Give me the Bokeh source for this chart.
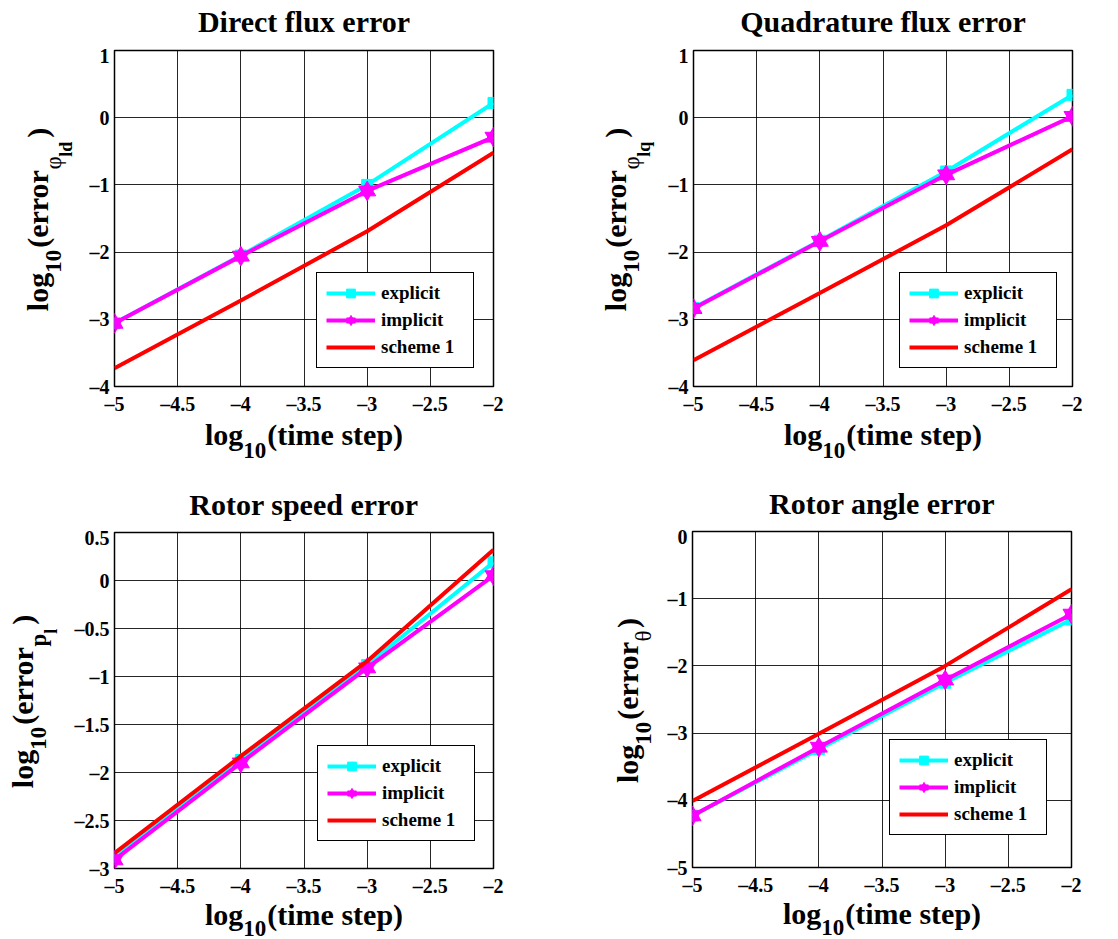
import math
from bokeh.plotting import figure
from bokeh.models import Label, Legend, LegendItem, FixedTicker, Range1d
from bokeh.layouts import column, row
from bokeh.embed import file_html
from bokeh.resources import INLINE

# ---------------- data ----------------
log_dt = [-5, -4, -3, -2]

dflux_explicit = [-3.06, -2.05, -1.00, 0.22]
dflux_implicit = [-3.06, -2.06, -1.09, -0.29]
dflux_scheme1 = [-3.73, -2.72, -1.69, -0.52]

qflux_explicit = [-2.83, -1.83, -0.80, 0.34]
qflux_implicit = [-2.84, -1.84, -0.85, 0.02]
qflux_scheme1 = [-3.61, -2.61, -1.60, -0.47]

speed_explicit = [-2.88, -1.87, -0.88, 0.19]
speed_implicit = [-2.91, -1.90, -0.91, 0.05]
speed_scheme1 = [-2.84, -1.83, -0.84, 0.32]

angle_explicit = [-4.23, -3.24, -2.25, -1.31]
angle_implicit = [-4.23, -3.21, -2.21, -1.23]
angle_scheme1 = [-4.01, -3.01, -2.00, -0.86]

titles = ["Direct flux error", "Quadrature flux error", "Rotor speed error", "Rotor angle error"]
series_names = ["explicit", "implicit", "scheme 1"]
x_ticks = [-5, -4.5, -4, -3.5, -3, -2.5, -2]
y_ticks_flux = [-4, -3, -2, -1, 0, 1]
y_ticks_speed = [-3, -2.5, -2, -1.5, -1, -0.5, 0, 0.5]
y_ticks_angle = [-5, -4, -3, -2, -1, 0]

FONT = "Liberation Serif"
CYAN = "#00FFFF"
MAGENTA = "#FF00FF"
RED = "#FF0000"

FW, FH = 379, 336
BASE_OFF = 0.3375  # distance (em) from the text-box centre down to the baseline

WID = {'l': .278, 'o': .5, 'g': .5, '1': .5, '0': .5, '(': .333, ')': .333,
       'e': .444, 'r': .444, 't': .333, 'i': .278, 'm': .833, ' ': .25,
       's': .389, 'p': .556, 'd': .556, 'q': .556, 'φ': .55, 'θ': .5}


def tw(s, size):
    return sum(WID.get(c, .5) for c in s) * size


def fmt(t):
    return ("%g" % t).replace("-", "\u2013")


def key(t):
    return int(t) if float(t).is_integer() else t


def strip(w, h):
    s = figure(frame_width=w, frame_height=h, x_range=Range1d(0, w), y_range=Range1d(0, h),
               x_axis_location=None, y_axis_location=None, toolbar_location=None,
               output_backend="svg", min_border=0, title=None,
               background_fill_color="white", border_fill_color="white")
    s.outline_line_color = None
    s.xgrid.visible = False
    s.ygrid.visible = False
    return s


def lab(p, x, y, t, sz, bold, align="left", vertical=False):
    # (x, y) is the intended baseline start point (y upwards)
    if vertical:
        x = x - BASE_OFF * sz
        ang = math.pi / 2
    else:
        y = y + BASE_OFF * sz
        ang = 0.0
    p.add_layout(Label(x=x, y=y, text=t, text_font=FONT, text_font_size="%dpx" % sz,
                       text_font_style="bold" if bold else "normal", text_color="black",
                       text_align=align, text_baseline="middle", angle=ang))


def rich(p, pieces, center, base, vertical):
    total = sum(tw(t, sz) + g for t, sz, sh, b, g in pieces)
    pos = center - total / 2.0
    for t, sz, sh, b, g in pieces:
        if vertical:
            lab(p, base + sh, pos, t, sz, b, vertical=True)
        else:
            lab(p, pos, base - sh, t, sz, b)
        pos += tw(t, sz) + g


def main_fig(ex, im, sc, yr, yticks, bl, br, bt, bb, legend_loc):
    p = figure(frame_width=FW, frame_height=FH, x_range=Range1d(-5, -2),
               y_range=Range1d(*yr), output_backend="svg", toolbar_location=None,
               title=None, min_border_left=bl, min_border_right=br,
               min_border_top=bt, min_border_bottom=bb,
               background_fill_color="white", border_fill_color="white")
    p.outline_line_color = "black"
    p.outline_line_width = 1.5
    p.outline_line_alpha = 1.0

    p.xaxis.ticker = FixedTicker(ticks=x_ticks)
    p.yaxis.ticker = FixedTicker(ticks=yticks)
    p.xaxis.major_label_overrides = {key(t): fmt(t) for t in x_ticks}
    p.yaxis.major_label_overrides = {key(t): fmt(t) for t in yticks}
    for ax in (p.xaxis, p.yaxis):
        ax.axis_line_color = None
        ax.major_tick_line_color = None
        ax.minor_tick_line_color = None
        ax.major_tick_out = 0
        ax.major_tick_in = 0
        ax.major_label_text_font = FONT
        ax.major_label_text_font_style = "bold"
        ax.major_label_text_font_size = "20px"
        ax.major_label_text_color = "black"
    p.xaxis.major_label_standoff = 6
    p.yaxis.major_label_standoff = 5
    p.grid.grid_line_color = "black"
    p.grid.grid_line_alpha = 0.85
    p.grid.grid_line_width = 1

    l1 = p.line(log_dt, ex, line_color=CYAN, line_width=4)
    s1 = p.scatter(log_dt, ex, marker="square", size=11, fill_color=CYAN, line_color=CYAN)
    l2 = p.line(log_dt, im, line_color=MAGENTA, line_width=4)
    t1 = p.scatter(log_dt, im, marker="triangle", size=17, fill_color=MAGENTA, line_color=MAGENTA)
    t2 = p.scatter(log_dt, im, marker="inverted_triangle", size=17, fill_color=MAGENTA, line_color=MAGENTA)
    l3 = p.line(log_dt, sc, line_color=RED, line_width=4)

    legend = Legend(items=[LegendItem(label=series_names[0], renderers=[l1, s1]),
                           LegendItem(label=series_names[1], renderers=[l2, t1, t2]),
                           LegendItem(label=series_names[2], renderers=[l3])],
                    location=legend_loc)
    legend.label_text_font = FONT
    legend.label_text_font_style = "bold"
    legend.label_text_font_size = "19px"
    legend.label_text_color = "black"
    legend.glyph_width = 49
    legend.glyph_height = 22
    legend.label_height = 22
    legend.label_width = 83
    legend.label_standoff = 6
    legend.spacing = 5
    legend.padding = 9
    legend.margin = 0
    legend.border_line_color = "black"
    legend.border_line_width = 1
    legend.border_line_alpha = 1
    legend.background_fill_color = "white"
    legend.background_fill_alpha = 1
    p.add_layout(legend)
    return p


S2 = 25
F, SF, SSF = 30, 23, 18
YLAB_LIFT = 5


def panel(title, ex, im, sc, yr, yticks, PW, PH, fx, fy, yw, ylab_pieces, ylab_base,
          title_base, xlab_base, xsub, legend_loc):
    BT = 6
    BB = 29
    TH = fy - BT
    MH = BT + FH + BB
    XH = PH - TH - MH
    bl = fx - yw
    br = PW - fx - FW

    t = strip(PW, TH)
    lab(t, fx + FW / 2.0, TH - title_base, title, F, True, align="center")

    yl = strip(yw, MH)
    rich(yl, ylab_pieces, MH - (BT + FH / 2.0) + YLAB_LIFT, ylab_base, True)

    m = main_fig(ex, im, sc, yr, yticks, bl, br, BT, BB, legend_loc)

    xl = strip(PW, XH)
    xlab = [("log", F, 0, True, 0), ("10", SF, xsub, True, 1), ("(time step)", F, 0, True, 0)]
    rich(xl, xlab, fx + FW / 2.0, XH - (xlab_base - TH - MH), False)

    return column(t, row(yl, m, spacing=0), xl, spacing=0)


def ylab(sub_parts):
    return ([("log", F, 0, True, 0), ("10", SF, 14, True, 2), ("(error", F, 0, True, 0)]
            + sub_parts + [(")", F, 0, True, 0)])


ylab1 = ylab([("φ", SF, 14, False, 0), ("ld", SSF, S2, True, 4)])
ylab2 = ylab([("φ", SF, 14, False, 0), ("lq", SSF, S2, True, 4)])
ylab3 = ylab([("p", SF, 14, True, 0), ("l", SSF, S2, True, 4)])
ylab4 = ylab([("θ", SF, 14, False, 2)])

P1 = panel(titles[0], dflux_explicit, dflux_implicit, dflux_scheme1, (-4, 1), y_ticks_flux,
           559, 469, 114, 50, 84, ylab1, 47, 31, 442, 14, (202, 18))
P2 = panel(titles[1], qflux_explicit, qflux_implicit, qflux_scheme1, (-4, 1), y_ticks_flux,
           559, 469, 134, 50, 100, ylab2, 66, 31, 442, 14, (206, 18))
P3 = panel(titles[2], speed_explicit, speed_implicit, speed_scheme1, (-3, 0.5), y_ticks_speed,
           559, 470, 114, 61, 66, ylab3, 32, 43, 451, 12, (203, 27))
P4 = panel(titles[3], angle_explicit, angle_implicit, angle_scheme1, (-5, 0), y_ticks_angle,
           559, 470, 133, 60, 100, ylab4, 78, 42, 450, 12, (197, 32))

layout = column(row(P1, P2, spacing=0), row(P3, P4, spacing=0), spacing=0)
open("out.html", "w").write(file_html(layout, INLINE))
